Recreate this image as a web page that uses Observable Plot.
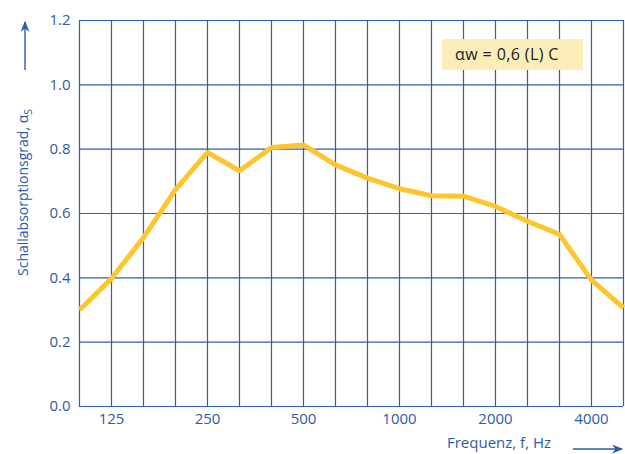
<!DOCTYPE html>
<html>
<head>
<meta charset="utf-8">
<script src="https://cdn.jsdelivr.net/npm/d3@7"></script>
<script src="https://cdn.jsdelivr.net/npm/@observablehq/plot@0.6"></script>
<style>
  html, body { margin: 0; padding: 0; background: #fff; }
  #chart { width: 625px; height: 454px; }
</style>
</head>
<body>
<div id="chart"></div>
<script>
// Third-octave band centre frequencies (Hz)
const freqs = ["100","125","160","200","250","315","400","500","630","800","1000","1250","1600","2000","2500","3150","4000","5000"];
// Sound absorption coefficient αs per band
const alpha = [0.30,0.398,0.525,0.674,0.79,0.733,0.805,0.813,0.751,0.71,0.677,0.655,0.654,0.622,0.576,0.535,0.393,0.307];
// Labelled x ticks
const xTickLabels = ["125","250","500","1000","2000","4000"];
// y ticks
const yTicks = [0, 0.2, 0.4, 0.6, 0.8, 1.0, 1.2];
// annotation
const noteText = "\u03B1w = 0,6 (L) C";
const xLabel = "Frequenz, f, Hz";
const yLabelMain = "Schallabsorptionsgrad, \u03B1";
const yLabelSub = "S";

const blue = "#2b5caa";
const gridBlue = "#2f5fb0";
const yellow = "#fdc62e";
const font = "'Open Sans', 'Noto Sans', sans-serif";

const data = freqs.map((f, i) => ({f, a: alpha[i]}));

const chart = Plot.plot({
  width: 625,
  height: 454,
  marginLeft: 79,
  marginRight: 2,
  marginTop: 20,
  marginBottom: 48,
  style: {fontFamily: font, fontSize: "15px", color: blue, background: "#fff", overflow: "visible"},
  x: {type: "point", domain: freqs, padding: 0, axis: null},
  y: {domain: [0, 1.2], axis: null},
  marks: [
    Plot.ruleX(freqs, {stroke: gridBlue, strokeWidth: 1.2}),
    Plot.ruleY(yTicks, {stroke: gridBlue, strokeWidth: 1.2}),
    Plot.line(data, {x: "f", y: "a", stroke: yellow, strokeWidth: 5, strokeLinejoin: "miter", strokeLinecap: "butt"}),
    Plot.axisX(xTickLabels, {tickSize: 0, tickPadding: 7, label: null, fill: blue, fontSize: 15}),
    Plot.axisY(yTicks, {tickSize: 0, tickPadding: 9, tickFormat: d => d.toFixed(1), label: null, fill: blue, fontSize: 15})
  ]
});

document.getElementById("chart").appendChild(chart);

const svg = d3.select(chart);
svg.append("defs").html(
  `<marker id="ah" viewBox="0 0 10 10" refX="9" refY="5" markerWidth="11" markerHeight="9" markerUnits="userSpaceOnUse" orient="auto" preserveAspectRatio="none">
     <path d="M0,0 L10,5 L0,10 L3,5 z" fill="${blue}"/>
   </marker>`
);

// Annotation box
const g = svg.append("g");
g.append("rect").attr("x", 442).attr("y", 39).attr("width", 141).attr("height", 31).attr("fill", "#fbedb8");
g.append("text").attr("x", 455).attr("y", 60).attr("text-anchor", "start").attr("fill", "#222")
  .attr("font-family", font).attr("font-size", 16).attr("letter-spacing", 0.4)
  .text(noteText);

// Y label (rotated) with arrow
const yl = svg.append("text")
  .attr("transform", "translate(28,276) rotate(-90)")
  .attr("text-anchor", "start")
  .attr("fill", blue)
  .attr("font-family", font)
  .attr("font-size", 14);
yl.append("tspan").text(yLabelMain);
yl.append("tspan").attr("font-size", 10.5).attr("dy", 4).text(yLabelSub);
svg.append("line").attr("x1", 25).attr("x2", 25).attr("y1", 70).attr("y2", 22)
  .attr("stroke", blue).attr("stroke-width", 1.4).attr("marker-end", "url(#ah)");

// X label with arrow
svg.append("text").attr("x", 447).attr("y", 448).attr("text-anchor", "start").attr("fill", blue)
  .attr("font-family", font).attr("font-size", 15)
  .text(xLabel);
svg.append("line").attr("x1", 573).attr("x2", 622).attr("y1", 449).attr("y2", 449)
  .attr("stroke", blue).attr("stroke-width", 1.4).attr("marker-end", "url(#ah)");
</script>
</body>
</html>
